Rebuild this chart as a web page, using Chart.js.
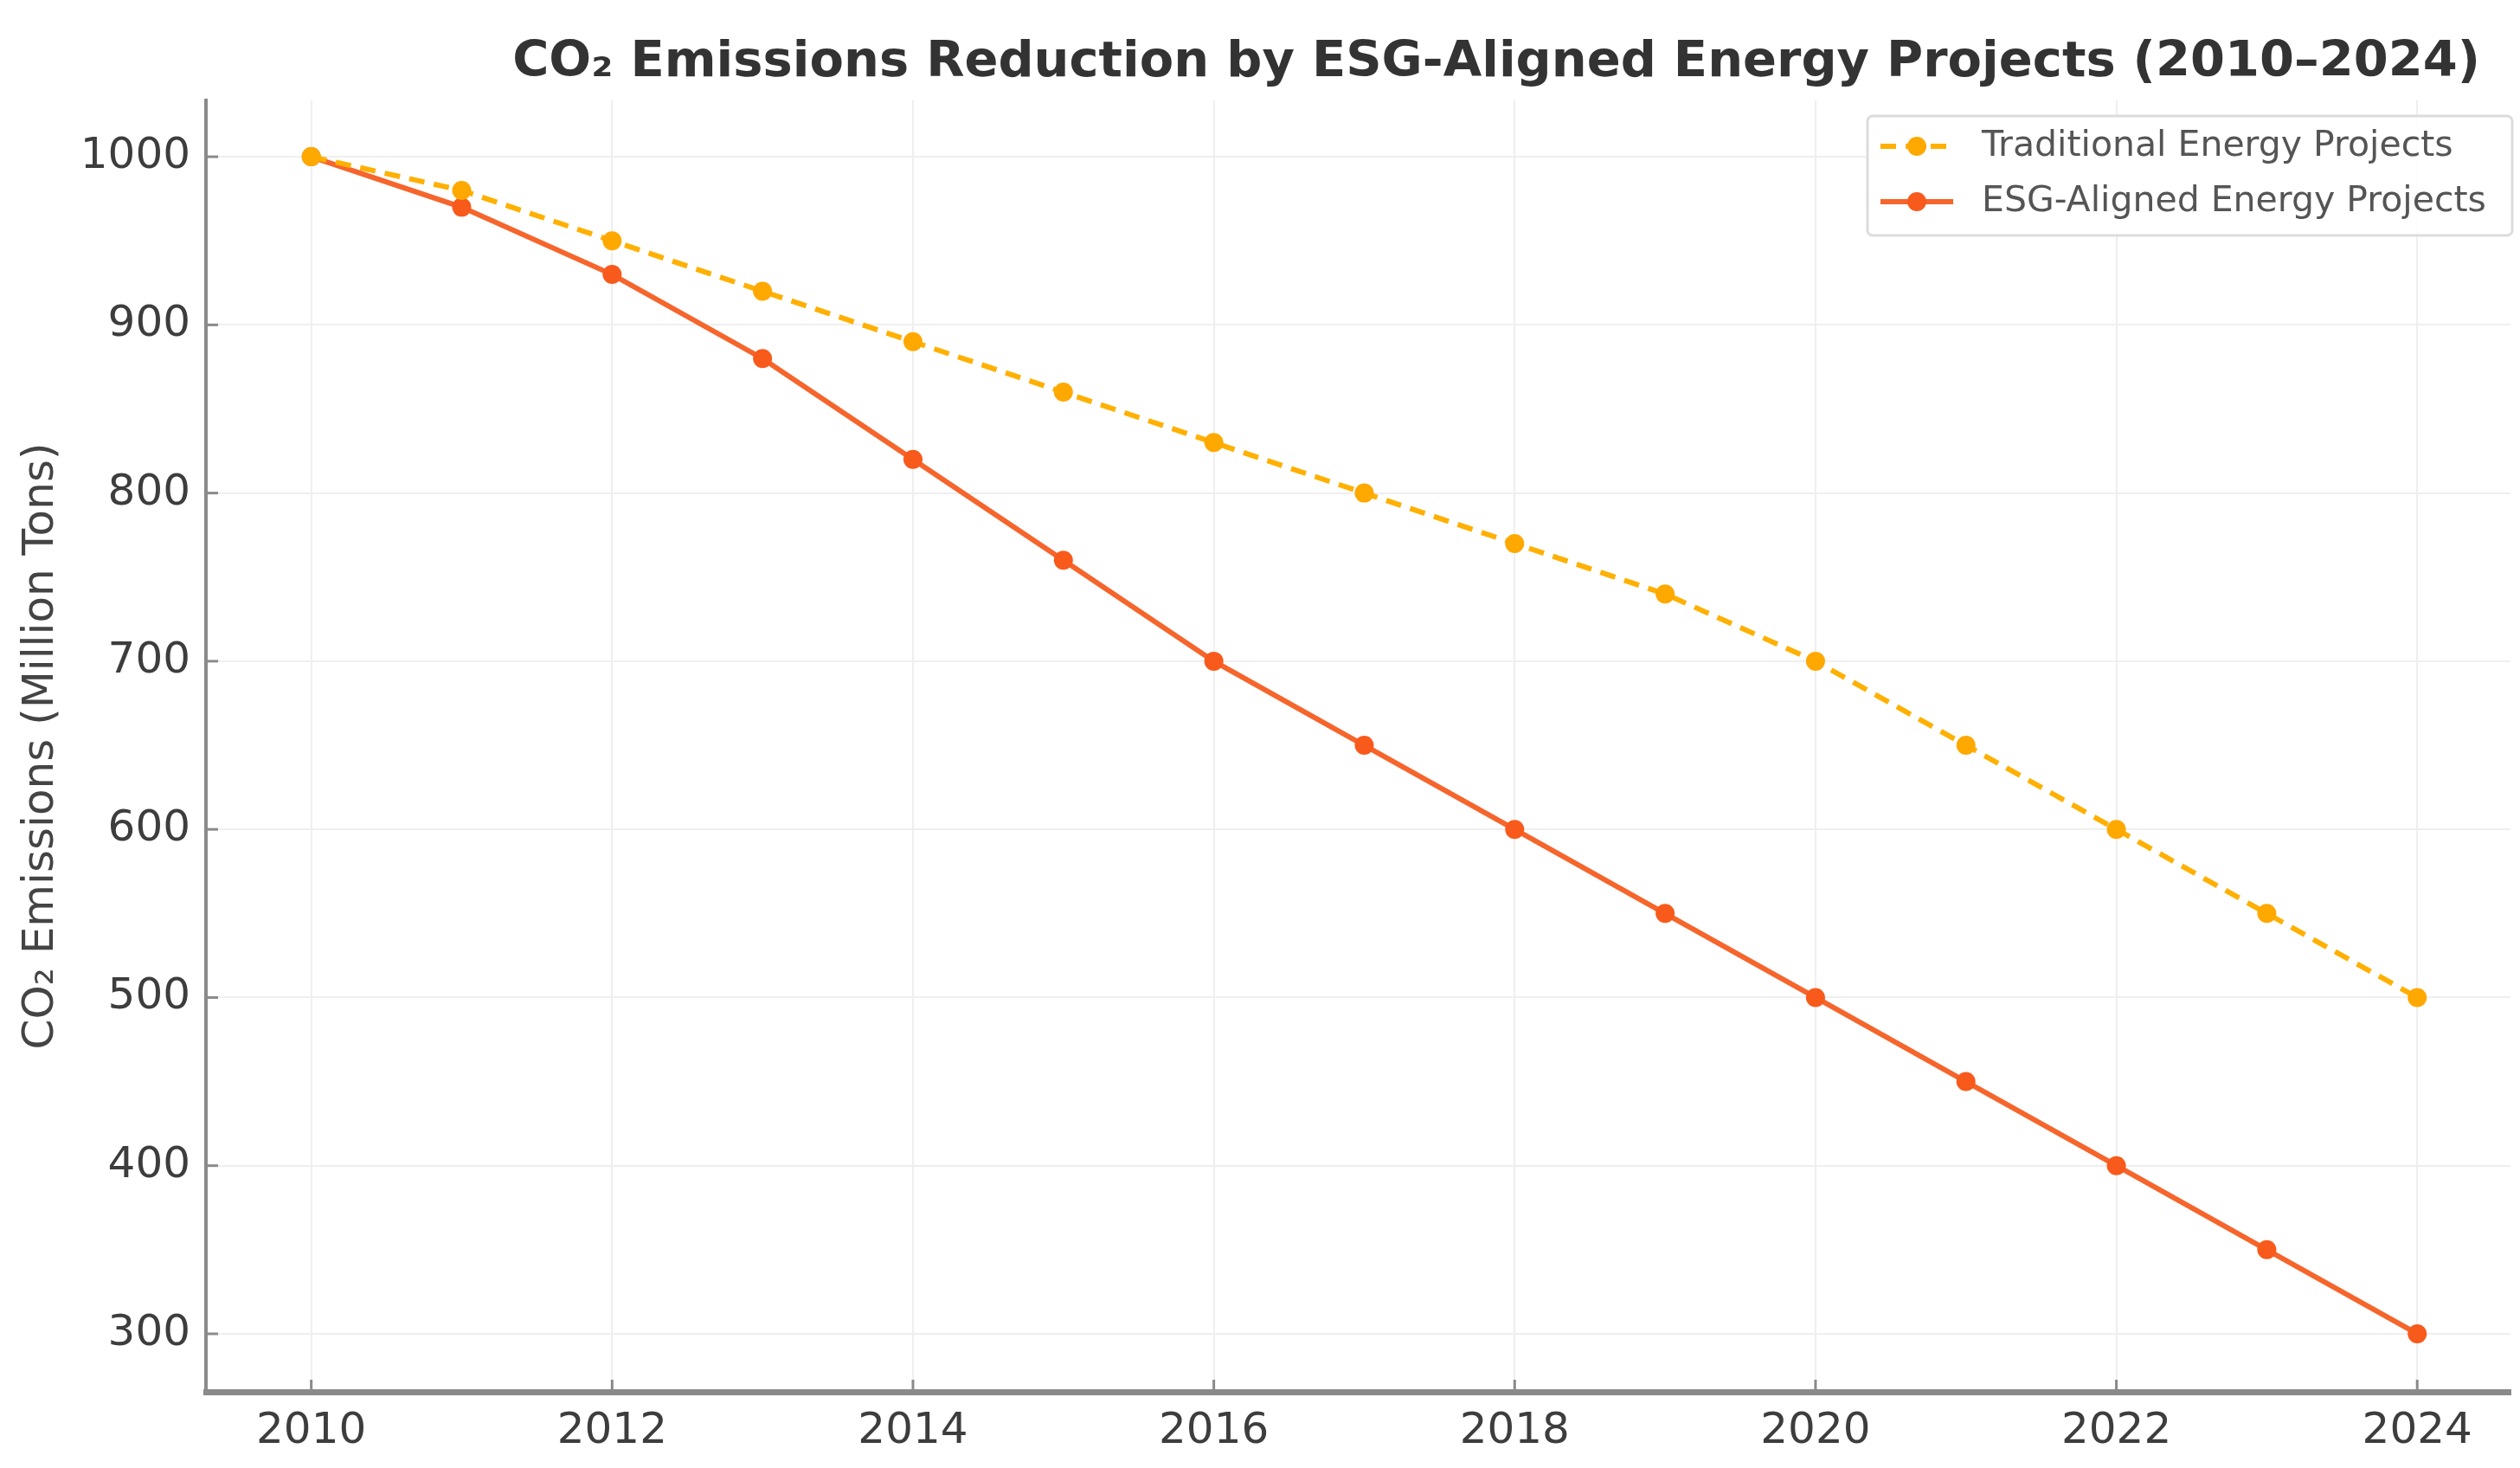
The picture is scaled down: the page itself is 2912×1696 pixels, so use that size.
<!DOCTYPE html>
<html>
<head>
<meta charset="utf-8">
<script src="https://cdn.jsdelivr.net/npm/chart.js@4.4.1/dist/chart.umd.min.js"></script>
<style>
  html, body { margin: 0; padding: 0; background: #fff; overflow: hidden; }
  #wrap { width: 2912px; height: 1696px; }
</style>
</head>
<body>
<div id="wrap"><canvas id="chart"></canvas></div>
<script>
// data
const years = [2010, 2011, 2012, 2013, 2014, 2015, 2016, 2017, 2018, 2019, 2020, 2021, 2022, 2023, 2024];
const traditional = [1000, 980, 950, 920, 890, 860, 830, 800, 770, 740, 700, 650, 600, 550, 500];
const esgAligned = [1000, 970, 930, 880, 820, 760, 700, 650, 600, 550, 500, 450, 400, 350, 300];
const xTicks = [2010, 2012, 2014, 2016, 2018, 2020, 2022, 2024];
const yTicks = [300, 400, 500, 600, 700, 800, 900, 1000];

const titleText = "CO\u2082 Emissions Reduction by ESG-Aligned Energy Projects (2010\u20132024)";
const yTitle = "CO\u2082 Emissions (Million Tons)";

const FONT = "'DejaVu Sans', sans-serif";
const AXIS_GRAY = "#8a8a8a";

const toPoints = arr => arr.map((v, i) => ({ x: years[i], y: v }));

// title, legend and inward tick marks
const extras = {
  id: "extras",
  afterDraw(c) {
    const ctx = c.ctx;
    const x = c.scales.x, y = c.scales.y;
    const area = c.chartArea;
    ctx.save();

    // inward ticks
    ctx.strokeStyle = AXIS_GRAY;
    ctx.lineWidth = 3;
    xTicks.forEach(v => {
      const px = x.getPixelForValue(v);
      ctx.beginPath();
      ctx.moveTo(px, area.bottom);
      ctx.lineTo(px, area.bottom - 14);
      ctx.stroke();
    });
    yTicks.forEach(v => {
      const py = y.getPixelForValue(v);
      ctx.beginPath();
      ctx.moveTo(area.left, py);
      ctx.lineTo(area.left + 14, py);
      ctx.stroke();
    });

    // title
    ctx.fillStyle = "#333";
    ctx.font = "bold 57.5px " + FONT;
    ctx.textAlign = "right";
    ctx.textBaseline = "middle";
    ctx.fillText(titleText, 2866, 73);

    // legend
    const lx = 2158, ly = 134, lw = 745, lh = 138;
    ctx.fillStyle = "rgba(255,255,255,0.85)";
    ctx.strokeStyle = "#dcdcdc";
    ctx.lineWidth = 3;
    ctx.beginPath();
    ctx.roundRect(lx, ly, lw, lh, 6);
    ctx.fill();
    ctx.stroke();

    const rows = [169, 233];
    c.data.datasets.forEach((ds, i) => {
      const ry = rows[i];
      ctx.strokeStyle = ds.borderColor;
      ctx.lineWidth = ds.borderWidth;
      ctx.setLineDash(ds.borderDash || []);
      ctx.beginPath();
      ctx.moveTo(2173, ry);
      ctx.lineTo(2257, ry);
      ctx.stroke();
      ctx.setLineDash([]);
      ctx.fillStyle = ds.pointBackgroundColor;
      ctx.beginPath();
      ctx.arc(2215, ry, ds.pointRadius, 0, Math.PI * 2);
      ctx.fill();
      ctx.fillStyle = "#555";
      ctx.font = "41px " + FONT;
      ctx.textAlign = "left";
      ctx.fillText(ds.label, 2290, ry);
    });

    ctx.restore();
  }
};

new Chart(document.getElementById("chart"), {
  type: "line",
  data: {
    datasets: [
      {
        label: "Traditional Energy Projects",
        data: toPoints(traditional),
        borderColor: "#ffb000",
        pointBackgroundColor: "#ffa800",
        pointBorderWidth: 0,
        borderWidth: 6,
        borderDash: [18, 11],
        pointRadius: 11,
        tension: 0
      },
      {
        label: "ESG-Aligned Energy Projects",
        data: toPoints(esgAligned),
        borderColor: "#f6652c",
        pointBackgroundColor: "#f85a1c",
        pointBorderWidth: 0,
        borderWidth: 6,
        pointRadius: 11,
        tension: 0
      }
    ]
  },
  options: {
    responsive: true,
    maintainAspectRatio: false,
    devicePixelRatio: 1,
    animation: false,
    layout: { padding: { top: 116, left: 0, right: 0, bottom: 0 } },
    plugins: {
      legend: { display: false },
      title: { display: false },
      tooltip: { enabled: false }
    },
    scales: {
      x: {
        type: "linear",
        min: 2009.3,
        max: 2024.62,
        afterBuildTicks: s => { s.ticks = xTicks.map(v => ({ value: v })); },
        afterFit: s => { s.height = 88; },
        grid: { color: "#efefef", lineWidth: 2, drawTicks: false },
        border: { color: AXIS_GRAY, width: 7 },
        ticks: {
          padding: 16,
          color: "#3d3d3d",
          font: { family: FONT, size: 50 },
          callback: v => String(v)
        }
      },
      y: {
        min: 265.5,
        max: 1033.5,
        afterBuildTicks: s => { s.ticks = yTicks.map(v => ({ value: v })); },
        afterFit: s => { s.width = 238; },
        grid: { color: "#efefef", lineWidth: 2, drawTicks: false },
        border: { color: AXIS_GRAY, width: 4 },
        title: {
          display: true,
          text: yTitle,
          color: "#444",
          font: { family: FONT, size: 50 },
          padding: { top: 18, bottom: 0 }
        },
        ticks: {
          padding: 18,
          color: "#3d3d3d",
          font: { family: FONT, size: 50 },
          callback: v => String(v)
        }
      }
    }
  },
  plugins: [extras]
});
</script>
</body>
</html>
